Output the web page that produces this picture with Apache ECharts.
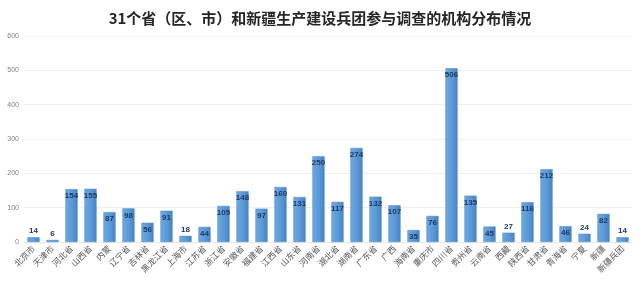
<!DOCTYPE html>
<html>
<head>
<meta charset="utf-8">
<script src="https://cdn.jsdelivr.net/npm/echarts@6/dist/echarts.min.js"></script>
<style>
html,body{margin:0;padding:0;background:#fff;}
#chart{width:640px;height:283px;}
</style>
</head>
<body>
<div id="chart"></div>
<script>
// Regions taking part in the survey and how many institutions each contributed
const regions = ['北京市','天津市','河北省','山西省','内蒙','辽宁省','吉林省','黑龙江省','上海市','江苏省','浙江省','安徽省','福建省','江西省','山东省','河南省','湖北省','湖南省','广东省','广西','海南省','重庆市','四川省','贵州省','云南省','西藏','陕西省','甘肃省','青海省','宁夏','新疆','新疆兵团'];
const institutions = [14,6,154,155,87,98,56,91,18,44,105,148,97,160,131,250,117,274,132,107,35,76,506,135,45,27,116,212,46,24,82,14];
const yTicks = [0,100,200,300,400,500,600];

const chart = echarts.init(document.getElementById('chart'));

const barColor = new echarts.graphic.LinearGradient(0,0,1,0,[
  {offset:0,color:'#6ea9e2'},
  {offset:0.5,color:'#5b9bd8'},
  {offset:1,color:'#4683c6'}
]);

// Short bars get their label above the bar instead of inside
const seriesData = institutions.map(v => ({
  value: v,
  label: v < 30 ? {position:'top', distance:2} : {position:'insideTop', distance:3}
}));

chart.setOption({
  animation:false,
  title:{
    text:'31个省（区、市）和新疆生产建设兵团参与调查的机构分布情况',
    left:'center', top:6,
    textStyle:{fontFamily:'Noto Sans CJK SC', fontSize:15, fontWeight:'bold', color:'#262626'}
  },
  grid:{left:24, right:8, top:36, bottom:41, containLabel:false},
  xAxis:{
    type:'category',
    data:regions,
    axisLine:{lineStyle:{color:'#e6e6e6'}},
    axisTick:{show:false},
    axisLabel:{rotate:45, interval:0, margin:5, fontSize:8.5, color:'#595959', fontFamily:'Noto Sans CJK SC'}
  },
  yAxis:{
    type:'value',
    min:yTicks[0], max:yTicks[yTicks.length-1], interval:100,
    axisLine:{show:false},
    axisTick:{show:false},
    splitLine:{lineStyle:{color:'#eeeeee'}},
    axisLabel:{fontSize:7, color:'#808080', margin:5, fontFamily:'Liberation Sans'}
  },
  series:[{
    type:'bar',
    data:seriesData,
    barCategoryGap:'36%',
    itemStyle:{color:barColor, borderColor:'#4f86c2', borderWidth:0.5},
    label:{
      show:true,
      fontSize:8, fontWeight:'bold', color:'#1f3864',
      fontFamily:'Liberation Sans'
    }
  }]
});
</script>
</body>
</html>
